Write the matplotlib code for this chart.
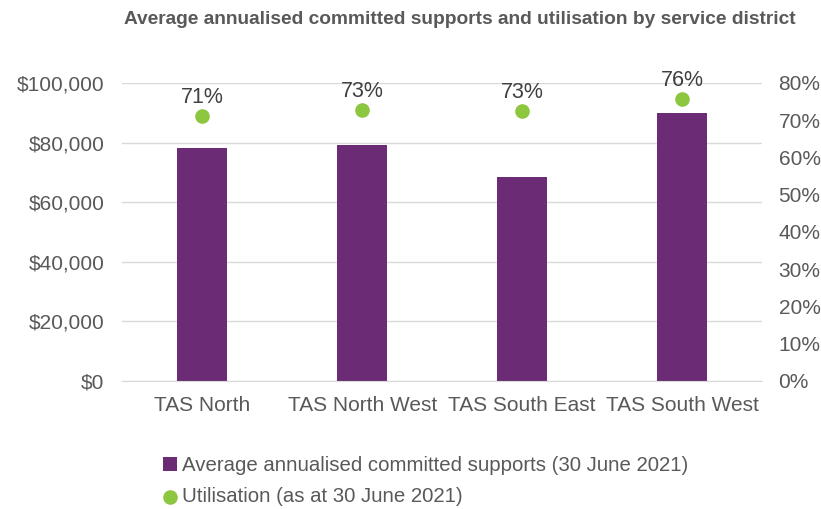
import matplotlib
matplotlib.use("Agg")
import matplotlib.pyplot as plt
from matplotlib.ticker import FuncFormatter, PercentFormatter

plt.rcParams["font.family"] = ["Liberation Sans", "DejaVu Sans"]

# data
districts = ["TAS North", "TAS North West", "TAS South East", "TAS South West"]
committed = [78200, 79200, 68500, 89900]
utilisation = [0.711, 0.727, 0.725, 0.756]
util_labels = ["71%", "73%", "73%", "76%"]

purple = "#6B2C75"
green = "#8DC63F"
text_col = "#595959"
label_col = "#404040"
grid_col = "#D9D9D9"

fig = plt.figure(figsize=(8.21, 5.09), dpi=100)
ax = fig.add_axes([0.149, 0.2515, 0.779, 0.5855])
ax2 = ax.twinx()

x = list(range(len(districts)))
ax.bar(x, committed, width=0.31, color=purple, zorder=2,
       label="Average annualised committed supports (30 June 2021)")
ax.set_xlim(-0.5, len(districts) - 0.5)
ax.set_ylim(0, 100000)
ax.set_yticks(range(0, 100001, 20000))
ax.yaxis.set_major_formatter(FuncFormatter(lambda v, p: f"${v:,.0f}"))
ax.set_xticks(x)
ax.set_xticklabels(districts)
ax.grid(True, axis="y", color=grid_col, linewidth=1, zorder=0)
ax.set_axisbelow(True)

ax2.scatter(x, utilisation, s=90, color=green, zorder=3,
            label="Utilisation (as at 30 June 2021)")
ax2.set_ylim(0, 0.8)
ax2.set_yticks([i / 10 for i in range(9)])
ax2.yaxis.set_major_formatter(PercentFormatter(1.0, decimals=0))
for xi, yi, lab in zip(x, utilisation, util_labels):
    ax2.annotate(lab, (xi, yi), textcoords="offset points", xytext=(0, 6),
                 ha="center", va="bottom", fontsize=15.5, color=label_col)

for a in (ax, ax2):
    for s in a.spines.values():
        s.set_visible(False)
    a.tick_params(length=0, labelsize=15, labelcolor=text_col)
ax.spines["bottom"].set_visible(True)
ax.spines["bottom"].set_color(grid_col)
ax.tick_params(axis="y", pad=13)
ax.tick_params(axis="x", pad=11)
ax2.tick_params(axis="y", pad=12)

fig.suptitle("Average annualised committed supports and utilisation by service district",
             x=0.56, y=0.978, fontsize=13.8, fontweight="bold", color=text_col)

h1, l1 = ax.get_legend_handles_labels()
h2, l2 = ax2.get_legend_handles_labels()
fig.legend(h1 + h2, l1 + l2, loc="upper left", bbox_to_anchor=(0.188, 0.12),
           frameon=False, fontsize=14.7, labelcolor=text_col, handlelength=0.7,
           handletextpad=0.25, labelspacing=0.6, borderaxespad=0)

fig.savefig("out.png", dpi=100)
